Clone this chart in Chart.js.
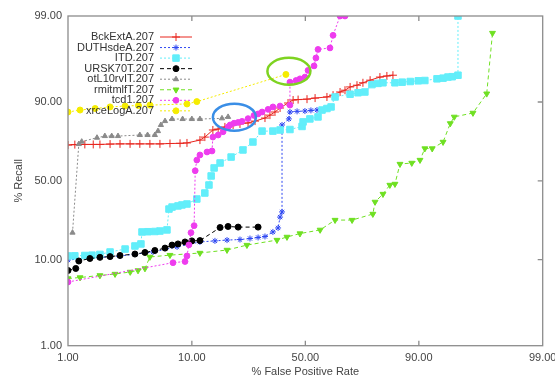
<!DOCTYPE html>
<html>
<head>
<meta charset="utf-8">
<script src="https://cdn.jsdelivr.net/npm/chart.js@4.4.1/dist/chart.umd.min.js"></script>
<style>
  html, body { margin: 0; padding: 0; background: #fff; }
</style>
</head>
<body>
<canvas id="chart" width="555" height="379"></canvas>
<script>
// tick marks on both axes (percent)
const tickValues = [1, 10, 50, 90, 99]
const tickLabels = ['1.00', '10.00', '50.00', '90.00', '99.00']

const seriesNames = ['BckExtA.207', 'DUTHsdeA.207', 'ITD.207', 'URSK70T.207', 'otL10rvIT.207', 'rmitmlfT.207', 'tcd1.207', 'xrceLogA.207']

// [false positive %, recall %]
const bckExtA = [[1, 73.1], [1.14, 73.3], [1.38, 73.4], [1.62, 73.4], [1.84, 73.4], [2.23, 73.6], [2.69, 73.7], [3.25, 73.7], [3.9, 73.7], [4.7, 73.7], [5.65, 73.7], [6.78, 73.9], [8.12, 74.0], [9.18, 74.2], [11.5, 75.7], [12.5, 77.2], [14.3, 80.5], [15.6, 80.9], [17.4, 81.8], [19.8, 82.6], [22, 83.0], [24.8, 83.4], [27.4, 84.1], [31.4, 85.2], [33.5, 86.2], [35.7, 87.2], [38, 88.4], [41.7, 89.75], [44.1, 90.5], [46.5, 90.6], [50.8, 90.7], [54.7, 90.95], [60.3, 91.2], [63.1, 91.6], [66.2, 92.25], [68.3, 92.6], [70.4, 93.2], [73.1, 93.5], [75.3, 93.9], [77.8, 94.3], [80.9, 94.75], [82.9, 94.9], [84.5, 95.0]]
const duthsdeA = [[1, 9.92], [1.52, 10.4], [2.69, 10.97], [4.98, 12.1], [7.7, 13.7], [11.5, 15.4], [14.8, 15.8], [18.0, 16.1], [22, 16.3], [25.5, 16.7], [28.6, 17.1], [31.4, 17.5], [34.8, 19.4], [37.1, 21.2], [38.0, 26.7], [38.9, 29.6], [38.9, 82.6], [42.1, 84.9], [42.6, 87.2], [46.0, 87.4], [49.8, 87.5], [52.7, 87.7], [55.6, 87.8]]
const itd = [[1, 10.97], [1.14, 11.0], [1.38, 11.1], [1.58, 11.2], [1.84, 11.4], [2.23, 12.1], [2.96, 13.0], [3.56, 14.0], [3.98, 14.7], [4.06, 19.4], [4.54, 19.5], [5.15, 19.6], [5.65, 19.8], [6.42, 20.3], [6.66, 31.3], [7.04, 32.5], [7.83, 33.2], [8.4, 33.8], [9.18, 34.4], [10.9, 37.6], [12.5, 41.6], [13.4, 47.1], [13.9, 53.4], [14.6, 58.9], [16.1, 62.2], [19.2, 66.0], [23.0, 70.3], [26.6, 74.7], [30.2, 80.0], [34.8, 80.0], [38.0, 80.5], [42.6, 80.7], [48.4, 82.0], [48.9, 83.8], [52.2, 84.9], [56.1, 85.6], [58.0, 87.8], [60.3, 88.25], [62.2, 88.7], [64.0, 91.2], [70.4, 91.8], [73.5, 92.1], [76.0, 92.25], [78.4, 93.6], [80.3, 93.8], [81.8, 93.9], [85.0, 93.9], [86.7, 94.0], [88.4, 94.1], [89.9, 94.2], [91.0, 94.25], [92.75, 94.5], [93.5, 94.6], [94.05, 94.75], [94.5, 94.8], [95.05, 95.0], [95.05, 99]]
const ursk70T = [[1, 7.6], [1.16, 8.0], [1.23, 9.67], [1.52, 10.3], [1.84, 10.6], [2.23, 10.8], [2.69, 11.1], [3.56, 11.5], [4.29, 11.95], [5.15, 12.55], [6.2, 13.3], [7.04, 14.3], [7.83, 14.7], [8.87, 15.4], [10.0, 15.8], [11.5, 15.9], [16.1, 21.4], [18.3, 21.9], [21.4, 21.6], [28.6, 21.6]]
const otL10rvIT = [[1.09, 19.1], [1.23, 73.6], [1.3, 74.9], [1.74, 76.9], [2.02, 77.7], [2.3, 77.7], [2.59, 77.7], [3.9, 78.2], [4.5, 78.2], [5.15, 78.2], [5.45, 80.0], [5.75, 82.6], [6.2, 84.1], [7.04, 84.85], [8.5, 84.85], [10, 84.85], [11.5, 84.85], [16.6, 85.1], [18.3, 85.6]]
const rmitmlfT = [[1, 6.17], [1.26, 6.33], [1.84, 6.68], [2.45, 6.93], [3.26, 7.31], [3.77, 7.6], [4.29, 8.0], [4.7, 10.7], [6.78, 11.2], [11.5, 11.8], [18.0, 12.7], [24.4, 14.3], [36.6, 16.1], [41.2, 17.3], [47.4, 18.7], [57.1, 20.3], [64.0, 25.1], [71.2, 25.1], [78.7, 28.4], [79.4, 35.7], [81.8, 40.9], [83.7, 47.1], [85.0, 47.8], [86.2, 61.5], [88.7, 62.2], [90.2, 64.1], [91.0, 71.1], [92.1, 71.1], [93.5, 74.7], [94.3, 83.2], [94.7, 85.6], [96.25, 86.9], [97.1, 91.9], [97.4, 98.4]]
const tcd1 = [[1, 5.63], [7.16, 9.27], [8.87, 9.55], [9.18, 10.97], [9.5, 14.4], [9.85, 19.1], [10.4, 22.3], [10.6, 57.0], [10.9, 64.1], [11.5, 67.3], [12.97, 69.1], [14.1, 69.7], [14.3, 77.2], [15.6, 78.2], [16.9, 79.7], [18.3, 81.8], [18.9, 82.6], [20.1, 83.3], [21.4, 83.6], [22.7, 84.0], [24.8, 85.0], [27.0, 86.1], [28.6, 86.6], [30.2, 87.2], [32.7, 88.0], [34.8, 88.7], [38.0, 88.95], [42.6, 89.2], [42.6, 94.0], [45.5, 94.25], [47.4, 94.5], [49.8, 94.75], [51.3, 95.6], [54.2, 96.1], [55.1, 96.85], [56.1, 97.5], [61.7, 97.6], [63.1, 98.3], [66.2, 99], [68.3, 99]]
const xrceLogA = [[1, 87.2], [1.26, 87.8], [1.68, 88.25], [2.23, 88.7], [2.96, 88.95], [3.8, 89.1], [4.7, 89.2], [9.18, 89.5], [10.9, 90.1], [40.7, 95.1]]

// circled spots drawn on top of the plot (percent)
const circleCenters = [[20.2, 85.5], [42.1, 95.5]]

const allSeries = [bckExtA, duthsdeA, itd, ursk70T, otL10rvIT, rmitmlfT, tcd1, xrceLogA]
const colors = ['#e8261f', '#2f48f2', '#62eefa', '#000000', '#8a8a8a', '#6fe022', '#ee3cee', '#f5ec00']
const markers = ['cross', 'star', 'rect', 'circle', 'triangle', 'triangle', 'circle', 'circle']
const markerSizes = [4, 3, 4.6, 3, 3, 3.4, 2.9, 3]
const markerRot = [0, 0, 0, 0, 0, 180, 0, 0]
const dashes = [[], [2, 2], [2, 2], [4, 3], [2, 2], [4, 3], [2, 2], [2, 2]]
const circleColors = ['#3a8ee6', '#7ed321']

function logit(p) {
    const q = p / 100
    return Math.log(q / (1 - q))
}

const datasets = allSeries.map((s, i) => ({
    label: seriesNames[i],
    data: s.map(([x, y]) => ({ x: logit(x), y: logit(y) })),
    showLine: true,
    borderColor: colors[i],
    backgroundColor: colors[i],
    borderWidth: 1,
    borderDash: dashes[i],
    pointStyle: markers[i],
    pointRadius: markerSizes[i],
    pointRotation: markerRot[i],
    pointBorderWidth: 1,
    pointBorderColor: colors[i],
    pointBackgroundColor: colors[i],
    tension: 0,
    order: 10 - i
}))

const framePlugin = {
    id: 'frame',
    afterDatasetsDraw(chart) {
        const ctx = chart.ctx
        const a = chart.chartArea
        const xs = chart.scales.x
        const ys = chart.scales.y
        ctx.save()

        // circled annotations
        ctx.lineWidth = 2.5
        circleCenters.forEach(([cx, cy], i) => {
            ctx.strokeStyle = circleColors[i]
            ctx.beginPath()
            ctx.ellipse(xs.getPixelForValue(logit(cx)), ys.getPixelForValue(logit(cy)), 21.5, 13.5, 0, 0, Math.PI * 2)
            ctx.stroke()
        })

        // frame with inward ticks
        ctx.strokeStyle = '#8c8c8c'
        ctx.lineWidth = 1.3
        ctx.setLineDash([])
        ctx.strokeRect(a.left, a.top, a.right - a.left, a.bottom - a.top)
        ctx.beginPath()
        tickValues.slice(1, 4).forEach(v => {
            const px = xs.getPixelForValue(logit(v))
            ctx.moveTo(px, a.bottom); ctx.lineTo(px, a.bottom - 5)
            ctx.moveTo(px, a.top); ctx.lineTo(px, a.top + 5)
            const py = ys.getPixelForValue(logit(v))
            ctx.moveTo(a.right, py); ctx.lineTo(a.right - 5, py)
        })
        ctx.stroke()

        // key, text on the left and sample on the right
        ctx.font = '11px "Liberation Sans", Arial, sans-serif'
        ctx.textAlign = 'right'
        ctx.textBaseline = 'middle'
        datasets.forEach((d, i) => {
            const y = 37 + i * 10.55
            ctx.fillStyle = '#333'
            ctx.fillText(d.label, 154, y)
            ctx.strokeStyle = colors[i]
            ctx.lineWidth = 1
            ctx.setLineDash(dashes[i])
            ctx.beginPath()
            ctx.moveTo(160, y)
            ctx.lineTo(192, y)
            ctx.stroke()
            ctx.setLineDash([])
            ctx.fillStyle = colors[i]
            Chart.helpers.drawPoint(ctx, { pointStyle: markers[i], radius: markerSizes[i], rotation: markerRot[i], borderWidth: 1 }, 176, y)
        })
        ctx.restore()
    }
}

function fixSize(size) {
    return scale => {
        if (scale.isHorizontal()) scale.height = size
        else scale.width = size
        scale.paddingLeft = 0
        scale.paddingRight = 0
        scale.paddingTop = 0
        scale.paddingBottom = 0
    }
}

const tickFont = { family: '"Liberation Sans", Arial, sans-serif', size: 11 }

new Chart(document.getElementById('chart'), {
    type: 'scatter',
    data: { datasets },
    options: {
        responsive: false,
        animation: false,
        devicePixelRatio: 1,
        layout: { padding: { left: 0, top: 16, right: 12.3, bottom: 0 } },
        plugins: { legend: { display: false }, tooltip: { enabled: false } },
        scales: {
            x: {
                type: 'linear',
                min: logit(1),
                max: logit(99),
                afterFit: fixSize(33.3),
                afterBuildTicks: scale => { scale.ticks = tickValues.map(v => ({ value: logit(v) })) },
                grid: { drawOnChartArea: false, drawTicks: false },
                border: { display: false },
                ticks: { font: tickFont, color: '#444', padding: 6, autoSkip: false, maxRotation: 0, callback: (v, i) => tickLabels[i] },
                title: { display: true, text: '% False Positive Rate', font: tickFont, color: '#444', padding: { top: 0, bottom: 0 } }
            },
            y: {
                type: 'linear',
                min: logit(1),
                max: logit(99),
                afterFit: fixSize(68),
                afterBuildTicks: scale => { scale.ticks = tickValues.map(v => ({ value: logit(v) })) },
                grid: { drawOnChartArea: false, drawTicks: false },
                border: { display: false },
                ticks: { font: tickFont, color: '#444', padding: 6, autoSkip: false, callback: (v, i) => tickLabels[i] },
                title: { display: true, text: '% Recall', font: tickFont, color: '#444', padding: { top: 12, bottom: 0 } }
            }
        }
    },
    plugins: [framePlugin]
})
</script>
</body>
</html>
